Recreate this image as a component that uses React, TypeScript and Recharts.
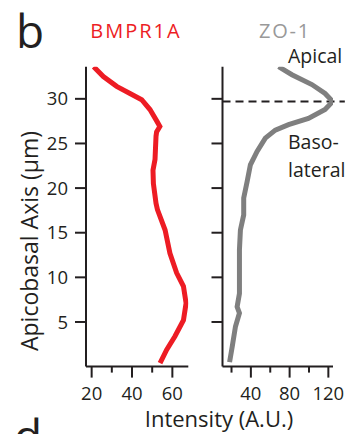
import { Line, LineChart, ReferenceLine, XAxis, YAxis } from "recharts";

// depth along the apicobasal axis (µm) and intensity read at that depth
const bmprDepth = [33.6, 32.5, 31.4, 30.6, 29.9, 28.8, 27.5, 26.9, 26.3, 25.8, 23.2, 22.0, 20.5, 18.3, 17.6, 15.3, 12.7, 10.5, 9.0, 7.1, 5.2, 3.4, 1.9, 0.4];
const bmprIntensity = [21.0, 25.8, 32.4, 39.0, 44.8, 48.9, 52.3, 53.8, 52.2, 51.9, 51.4, 50.4, 50.6, 51.9, 52.6, 56.4, 58.8, 62.1, 65.5, 66.8, 65.5, 61.3, 57.2, 53.9];

const zoDepth = [33.6, 32.7, 31.6, 30.6, 29.7, 28.8, 27.8, 27.1, 26.5, 25.6, 24.1, 22.6, 20.7, 18.9, 17.0, 15.3, 13.1, 10.8, 8.2, 6.7, 6.0, 4.5, 2.2, 0.5];
const zoIntensity = [68.6, 82.4, 103, 116.6, 124.5, 116.6, 99.4, 78.9, 65.2, 54.9, 46.4, 39.5, 36.1, 32.6, 32.6, 29.2, 28.2, 28.2, 28.2, 25.8, 28.2, 24.1, 20.7, 18.0];

const depthTicks = [5, 10, 15, 20, 25, 30];
const bmprTicks = [20, 30, 40, 50, 60];
const bmprLabels = [20, 40, 60];
const zoTicks = [20, 40, 60, 80, 100, 120];
const zoLabels = [40, 80, 120];
const apicalDepth = 29.7;

const INK = "#231f20";
const RED = "#ed1c24";
const GREY = "#7f7f7f";
const FONT = "'Open Sans', sans-serif";

const bmprData = bmprDepth.map((d, i) => ({ pos: d, val: bmprIntensity[i] }));
const zoData = zoDepth.map((d, i) => ({ pos: d, val: zoIntensity[i] }));

function XTick({ x, y, payload, labels }: any) {
  const major = labels.includes(payload.value);
  return (
    <g>
      <line x1={x} x2={x} y1={y} y2={y + (major ? 11 : 6)} stroke={INK} strokeWidth={2} />
      {major && (
        <text x={x} y={y + 33} textAnchor="middle" fontSize={18.5} fill={INK} fontFamily={FONT}>
          {payload.value}
        </text>
      )}
    </g>
  );
}

function YTick({ x, y, payload, showLabel }: any) {
  return (
    <g>
      <line x1={x - 11} x2={x} y1={y} y2={y} stroke={INK} strokeWidth={2} />
      {showLabel && (
        <text x={x - 18} y={y} dy="0.36em" textAnchor="end" fontSize={18.5} fill={INK} fontFamily={FONT}>
          {payload.value}
        </text>
      )}
    </g>
  );
}

const axisProps = {
  axisLine: { stroke: INK, strokeWidth: 2 },
  tickLine: false,
  tickSize: 0,
  tickMargin: 0,
  allowDataOverflow: true,
  interval: 0 as const,
};

export default function App() {
  return (
    <div style={{ position: "absolute", left: 0, top: 0, width: 353, height: 434, background: "#fff", fontFamily: FONT }}>
      <div style={{ position: "absolute", left: 0, top: 0 }}>
        <LineChart
          width={200}
          height={434}
          layout="vertical"
          data={bmprData}
          margin={{ top: 66.7, right: 11.7, bottom: 27.4, left: 0 }}
        >
          <XAxis
            type="number"
            domain={[17.2, 67.9]}
            ticks={bmprTicks}
            height={40}
            {...axisProps}
            tick={<XTick labels={bmprLabels} />}
          />
          <YAxis
            type="number"
            dataKey="pos"
            domain={[0, 33.6]}
            ticks={depthTicks}
            width={86}
            reversed
            {...axisProps}
            tick={<YTick showLabel />}
          />
          <Line dataKey="val" stroke={RED} strokeWidth={5} dot={false} isAnimationActive={false} />
        </LineChart>
      </div>
      <div style={{ position: "absolute", left: 200, top: 0 }}>
        <LineChart
          width={153}
          height={434}
          layout="vertical"
          data={zoData}
          margin={{ top: 66.7, right: 20, bottom: 27.4, left: 0 }}
        >
          <XAxis
            type="number"
            domain={[10.7, 124.8]}
            ticks={zoTicks}
            height={40}
            {...axisProps}
            tick={<XTick labels={zoLabels} />}
          />
          <YAxis
            type="number"
            dataKey="pos"
            domain={[0, 33.6]}
            ticks={depthTicks}
            width={22.5}
            reversed
            {...axisProps}
            tick={<YTick showLabel={false} />}
          />
          <ReferenceLine
            segment={[{ x: 10.7, y: apicalDepth }, { x: 137, y: apicalDepth }]}
            stroke={INK}
            strokeWidth={2}
            strokeDasharray="8 5"
            ifOverflow="visible"
          />
          <Line dataKey="val" stroke={GREY} strokeWidth={5} dot={false} isAnimationActive={false} />
        </LineChart>
      </div>
      <svg
        width={353}
        height={434}
        style={{ position: "absolute", left: 0, top: 0, pointerEvents: "none" }}
        fontFamily={FONT}
      >
        <text x={16} y={48} fontSize={46} fill={INK}>b</text>
        <text x={14} y={453} fontSize={46} fill={INK}>d</text>
        <text x={136} y={38} fontSize={20} fill={RED} textAnchor="middle" letterSpacing={2}>BMPR1A</text>
        <text x={285} y={38} fontSize={20} fill="#999999" textAnchor="middle" letterSpacing={1.8}>ZO-1</text>
        <text x={288} y={63} fontSize={19.5} fill={INK}>Apical</text>
        <text x={288} y={149} fontSize={19.5} fill={INK}>Baso-</text>
        <text x={288} y={177} fontSize={19.5} fill={INK}>lateral</text>
        <text x={38} y={241} fontSize={23} fill={INK} textAnchor="middle" transform="rotate(-90, 38, 241)">
          Apicobasal Axis (μm)
        </text>
        <text x={219} y={427} fontSize={22} fill={INK} textAnchor="middle">Intensity (A.U.)</text>
      </svg>
    </div>
  );
}
